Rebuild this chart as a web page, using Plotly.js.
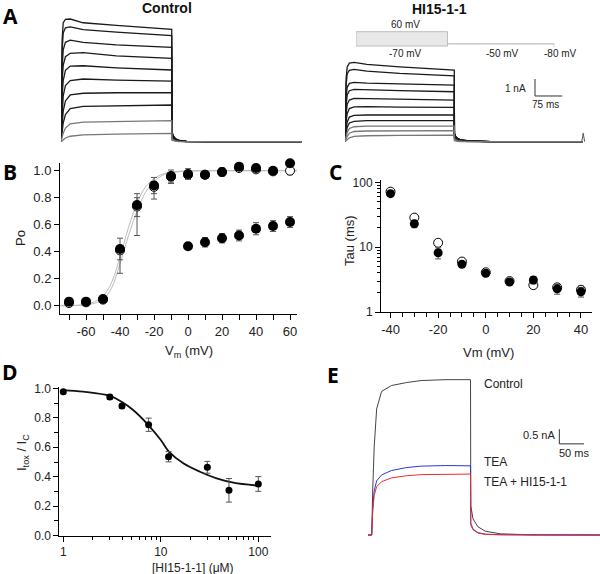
<!DOCTYPE html>
<html><head><meta charset="utf-8">
<script src="https://cdn.plot.ly/plotly-3.0.1.min.js"></script>
<style>body{margin:0;background:#fff}#plot{width:600px;height:574px}</style>
</head><body><div id="plot"></div>
<script>
// ---------- Panel A: current traces (nA) ----------
const tA = [0, 1, 3, 6, 12, 25, 60, 150, 300, 300.5, 304, 310, 320, 340, 400, 652];
const ctrlTraces = [
  [0, 3.0, 6.0, 7.0, 7.2, 7.22, 7.0, 6.85, 6.61, 0.6, 0.35, 0.18, 0.07, 0.02, 0, 0],
  [0, 2.5, 5.3, 6.4, 6.7, 6.76, 6.6, 6.45, 6.24, 0.58, 0.34, 0.17, 0.07, 0.02, 0, 0],
  [0, 2.0, 4.3, 5.4, 5.85, 5.98, 5.85, 5.7, 5.55, 0.55, 0.32, 0.16, 0.06, 0.02, 0, 0],
  [0, 1.5, 3.5, 4.5, 5.0, 5.2, 5.24, 5.05, 4.9, 0.5, 0.3, 0.15, 0.06, 0.02, 0, 0],
  [0, 1.0, 2.6, 3.6, 4.2, 4.45, 4.47, 4.35, 4.22, 0.45, 0.28, 0.14, 0.05, 0.015, 0, 0],
  [0, 0.6, 1.8, 2.7, 3.3, 3.6, 3.69, 3.62, 3.57, 0.4, 0.25, 0.12, 0.05, 0.01, 0, 0],
  [0, 0.35, 1.1, 1.8, 2.4, 2.75, 2.85, 2.88, 2.88, 0.33, 0.2, 0.1, 0.04, 0.01, 0, 0],
  [0, 0.2, 0.6, 1.1, 1.6, 1.95, 2.08, 2.12, 2.16, 0.25, 0.15, 0.07, 0.03, 0.01, 0, 0],
  [0, 0.08, 0.25, 0.5, 0.8, 1.05, 1.15, 1.2, 1.24, 0.15, 0.1, 0.05, 0.02, 0, 0, 0],
  [0, 0.02, 0.06, 0.12, 0.22, 0.32, 0.4, 0.45, 0.49, 0.08, 0.05, 0.03, 0.01, 0, 0, 0]
];
const hiTraces = [
  [0, 2.0, 3.7, 4.4, 4.62, 4.67, 4.55, 4.4, 4.22, 0.5, 0.3, 0.18, 0.1, 0.05, 0.01, 0],
  [0, 1.7, 3.3, 4.0, 4.2, 4.25, 4.15, 4.02, 3.88, 0.48, 0.29, 0.17, 0.1, 0.05, 0.01, 0],
  [0, 1.3, 2.6, 3.2, 3.43, 3.49, 3.45, 3.4, 3.33, 0.45, 0.27, 0.16, 0.09, 0.04, 0.01, 0],
  [0, 1.0, 2.1, 2.75, 3.0, 3.08, 3.05, 3.0, 2.94, 0.42, 0.25, 0.15, 0.08, 0.04, 0.01, 0],
  [0, 0.75, 1.6, 2.2, 2.45, 2.55, 2.54, 2.5, 2.45, 0.38, 0.23, 0.13, 0.07, 0.03, 0.01, 0],
  [0, 0.5, 1.15, 1.65, 1.95, 2.05, 2.06, 2.04, 2.02, 0.33, 0.2, 0.11, 0.06, 0.03, 0.01, 0],
  [0, 0.3, 0.75, 1.15, 1.45, 1.55, 1.57, 1.57, 1.57, 0.28, 0.17, 0.09, 0.05, 0.02, 0, 0],
  [0, 0.2, 0.5, 0.85, 1.1, 1.2, 1.24, 1.24, 1.24, 0.22, 0.13, 0.07, 0.04, 0.02, 0, 0],
  [0, 0.12, 0.3, 0.55, 0.78, 0.88, 0.92, 0.92, 0.92, 0.16, 0.1, 0.05, 0.03, 0.01, 0, 0],
  [0, 0.06, 0.17, 0.32, 0.5, 0.6, 0.63, 0.64, 0.65, 0.1, 0.06, 0.03, 0.02, 0.01, 0, 0],
  [0, 0.02, 0.06, 0.13, 0.23, 0.31, 0.35, 0.37, 0.39, 0.06, 0.04, 0.02, 0.01, 0, 0, 0]
];
const hiEndSpikeT = [650, 654, 658];
const hiEndSpikeI = [0, 0.5, 0];
// voltage protocol (mV, ms)
const protoStepT = [0, 0, 300, 300, 0];
const protoStepV = [-70, 60, 60, -70, -70];
const protoTailT = [300, 650, 650];
const protoTailV = [-50, -50, -80];
const protoLabels = ["60 mV", "-70 mV", "-50 mV", "-80 mV"];

// ---------- Panel B: Po vs Vm ----------
const bV = [-70, -60, -50, -40, -30, -20, -10, 0, 10, 20, 30, 40, 50, 60];
const bTickText = ["-60", "-40", "-20", "0", "20", "40", "60"];
const bPoFilled = [0.03, 0.03, 0.05, 0.42, 0.745, 0.89, 0.96, 0.975, 0.97, 0.99, 1.03, 1.02, 1.0, 1.055];
const bPoFilledErr = [0.01, 0.01, 0.01, 0.08, 0.085, 0.06, 0.045, 0.04, 0.02, 0.03, 0.01, 0.01, 0.02, 0.02];
const bPoOpen = [0.02, 0.025, 0.045, 0.41, 0.735, 0.88, 0.955, 0.97, 0.97, 0.99, 1.02, 1.01, 0.995, 1.0];
const bPoOpenErrPlus = [0.01, 0.01, 0.01, 0.0, 0.065, 0.04, 0.03, 0.03, 0.02, 0.02, 0.02, 0.02, 0.02, 0.03];
const bPoOpenErrMinus = [0.01, 0.01, 0.01, 0.17, 0.215, 0.09, 0.05, 0.03, 0.02, 0.02, 0.02, 0.02, 0.02, 0.03];
const bVLow = [0, 10, 20, 30, 40, 50, 60];
const bPoLow = [0.44, 0.47, 0.50, 0.52, 0.57, 0.59, 0.62];
const bPoLowErr = [0.025, 0.035, 0.035, 0.04, 0.045, 0.04, 0.04];
const fitV = [-75, -65, -60, -55, -50, -45, -40, -35, -30, -25, -20, -15, -10, 0, 20, 64];
const fit1 = [0, 0.003, 0.01, 0.03, 0.07, 0.17, 0.36, 0.58, 0.76, 0.88, 0.94, 0.975, 0.99, 0.998, 1.0, 1.0];
const fit2 = [0, 0.002, 0.005, 0.018, 0.045, 0.13, 0.31, 0.52, 0.70, 0.84, 0.92, 0.965, 0.985, 0.997, 1.0, 1.0];

// ---------- Panel C: Tau vs Vm ----------
const cV = [-40, -30, -20, -10, 0, 10, 20, 30, 40];
const cTickText = ["-40", "-20", "0", "20", "40"];
const cTauFilled = [67, 23, 8.2, 5.45, 3.95, 2.9, 3.12, 2.28, 2.05];
const cTauFilledErr = [6, 3, 1.6, 0.6, 0.4, 0.25, 0.4, 0.4, 0.35];
const cTauOpen = [72, 28.6, 11.7, 6.0, 4.1, 3.0, 2.6, 2.4, 2.2];
const cTauOpenErr = [4, 2, 1, 0.4, 0.3, 0.25, 0.3, 0.3, 0.3];

// ---------- Panel D: dose response ----------
const dConc = [1, 3, 4, 7.5, 12, 30, 50, 100];
const dRatio = [0.977, 0.941, 0.88, 0.753, 0.536, 0.464, 0.308, 0.351];
const dErr = [0.01, 0.015, 0.015, 0.045, 0.035, 0.04, 0.08, 0.05];
const dFitC = [1, 1.6, 3, 4, 5.2, 7.45, 10, 12.1, 17, 25.2, 37.4, 55.5, 100];
const dFitR = [0.988, 0.977, 0.948, 0.907, 0.853, 0.751, 0.649, 0.570, 0.491, 0.434, 0.389, 0.360, 0.339];

// ---------- Panel E: TEA traces ----------
const tE = [-8, 0, 2, 5, 10, 20, 40, 70, 100, 150, 200, 200.5, 205, 215, 230, 260, 320, 462];
const eControl = [0, 0, 1.5, 3.0, 4.3, 4.9, 5.1, 5.2, 5.27, 5.3, 5.3, 1.0, 0.55, 0.28, 0.13, 0.04, 0.01, 0];
const eTEA = [0, 0, 0.9, 1.5, 1.85, 2.05, 2.2, 2.3, 2.35, 2.37, 2.36, 0.4, 0.2, 0.08, 0.03, 0.01, 0, 0];
const eTEAHI = [0, 0, 0.8, 1.35, 1.65, 1.82, 1.95, 2.02, 2.06, 2.08, 2.08, 0.35, 0.18, 0.07, 0.02, 0.01, 0, 0];
const eLabels = ["Control", "TEA", "TEA + HI15-1-1"];

// ---------- layout helpers (pixel -> paper) ----------
const W = 600, H = 574;
const dx = (a, b) => [a / W, b / W];
const dy = (top, bottom) => [1 - bottom / H, 1 - top / H];
const px = x => x / W, py = y => 1 - y / H;
const FONT = "Liberation Sans, Arial, sans-serif";
const BOLD = "Open Sans, Liberation Sans, sans-serif";

const traces = [];
ctrlTraces.forEach((y, i) => traces.push({x: tA, y: y, xaxis: 'x', yaxis: 'y', mode: 'lines',
  line: {color: i < 8 ? '#1a1a1a' : '#777', width: 1.3}, hoverinfo: 'skip'}));
hiTraces.forEach((y, i) => traces.push({x: tA, y: y, xaxis: 'x2', yaxis: 'y2', mode: 'lines',
  line: {color: i < 8 ? '#1a1a1a' : '#777', width: 1.3}, hoverinfo: 'skip'}));
traces.push({x: hiEndSpikeT, y: hiEndSpikeI, xaxis: 'x2', yaxis: 'y2', mode: 'lines', line: {color: '#555', width: 1}});
traces.push({x: protoStepT, y: protoStepV, xaxis: 'x3', yaxis: 'y3', mode: 'lines', fill: 'toself',
  fillcolor: '#e8e8e8', line: {color: '#bdbdbd', width: 1}});
traces.push({x: protoTailT, y: protoTailV, xaxis: 'x3', yaxis: 'y3', mode: 'lines', line: {color: '#bdbdbd', width: 1.2}});

// B
const errStyle = e => ({type: 'data', array: e, visible: true, color: '#555', thickness: 1, width: 3});
traces.push({x: fitV, y: fit1, xaxis: 'x4', yaxis: 'y4', mode: 'lines', line: {color: '#bbb', width: 1, shape: 'spline'}});
traces.push({x: fitV, y: fit2, xaxis: 'x4', yaxis: 'y4', mode: 'lines', line: {color: '#bbb', width: 1, shape: 'spline'}});
traces.push({x: bV, y: bPoOpen, xaxis: 'x4', yaxis: 'y4', mode: 'markers', cliponaxis: false,
  error_y: {type: 'data', symmetric: false, array: bPoOpenErrPlus, arrayminus: bPoOpenErrMinus, visible: true, color: '#555', thickness: 1, width: 3},
  marker: {size: 9, color: '#fff', line: {color: '#000', width: 1}}});
traces.push({x: bV, y: bPoFilled, xaxis: 'x4', yaxis: 'y4', mode: 'markers', error_y: errStyle(bPoFilledErr), cliponaxis: false,
  marker: {size: 10, color: '#000'}});
traces.push({x: bVLow, y: bPoLow, xaxis: 'x4', yaxis: 'y4', mode: 'markers', error_y: errStyle(bPoLowErr), cliponaxis: false,
  marker: {size: 10, color: '#000'}});
// C
traces.push({x: cV, y: cTauOpen, xaxis: 'x5', yaxis: 'y5', mode: 'markers', error_y: errStyle(cTauOpenErr), cliponaxis: false,
  marker: {size: 9, color: '#fff', line: {color: '#000', width: 1}}});
traces.push({x: cV, y: cTauFilled, xaxis: 'x5', yaxis: 'y5', mode: 'markers', error_y: errStyle(cTauFilledErr), cliponaxis: false,
  marker: {size: 9, color: '#000'}});
// D
traces.push({x: dFitC, y: dFitR, xaxis: 'x6', yaxis: 'y6', mode: 'lines', line: {color: '#111', width: 1.8, shape: 'spline'}});
traces.push({x: dConc, y: dRatio, xaxis: 'x6', yaxis: 'y6', mode: 'markers', error_y: errStyle(dErr), cliponaxis: false,
  marker: {size: 7, color: '#000'}});
// E
traces.push({x: tE, y: eControl, xaxis: 'x7', yaxis: 'y7', mode: 'lines', line: {color: '#444', width: 1}});
traces.push({x: tE, y: eTEA, xaxis: 'x7', yaxis: 'y7', mode: 'lines', line: {color: '#2b35d8', width: 1}});
traces.push({x: tE, y: eTEAHI, xaxis: 'x7', yaxis: 'y7', mode: 'lines', line: {color: '#ee2a2a', width: 1}});

const hidden = {visible: false, showgrid: false, zeroline: false, fixedrange: true};
const axBase = {showline: true, linecolor: '#000', linewidth: 1, ticks: 'outside', ticklen: 5, tickcolor: '#000',
  showgrid: false, zeroline: false, mirror: false, tickfont: {family: FONT, size: 13, color: '#222'}};

const ann = (x, y, text, size, opts) => Object.assign({xref: 'paper', yref: 'paper', x: px(x), y: py(y), text: text,
  showarrow: false, font: {family: FONT, size: size, color: '#222'}, xanchor: 'center', yanchor: 'middle'}, opts || {});
const letter = (x, y, t) => ann(x, y, '<b>' + t + '</b>', 21, {font: {family: BOLD, size: 21, color: '#000'}});

const annotations = [
  letter(10, 16, 'A'), letter(10, 172, 'B'), letter(335, 172, 'C'), letter(10, 372, 'D'), letter(333, 375, 'E'),
  ann(167, 8, '<b>Control</b>', 14, {font: {family: FONT, size: 14, color: '#111'}}),
  ann(440, 9, '<b>HI15-1-1</b>', 14, {font: {family: FONT, size: 14, color: '#111'}}),
  ann(405, 25, protoLabels[0], 10),
  ann(405, 53, protoLabels[1], 10),
  ann(502, 53, protoLabels[2], 10),
  ann(560, 53, protoLabels[3], 10),
  ann(528, 89, '1 nA', 10, {xanchor: 'right'}),
  ann(545, 104, '75 ms', 10),
  ann(21, 238, 'Po', 13, {textangle: -90}),
  ann(189, 351, 'V<sub>m</sub> (mV)', 13),
  ann(349, 241, 'Tau (ms)', 13, {textangle: -90}),
  ann(488, 352, 'Vm (mV)', 13),
  ann(22, 453, 'I<sub>tox</sub> / I<sub>C</sub>', 13, {textangle: -90}),
  ann(193, 568, '[HI15-1-1] (μM)', 12),
  ann(482, 384, eLabels[0], 12, {xanchor: 'left'}),
  ann(482, 462, eLabels[1], 12, {xanchor: 'left'}),
  ann(482, 482, eLabels[2], 12, {xanchor: 'left'}),
  ann(557, 435, '0.5 nA', 11, {xanchor: 'right'}),
  ann(574, 453, '50 ms', 11)
];

const sb = {type: 'line', line: {color: '#333', width: 1}};
const shapes = [
  Object.assign({xref: 'x2', yref: 'y2', x0: 521.6, x1: 521.6, y0: 2.69, y1: 3.69}, sb),
  Object.assign({xref: 'x2', yref: 'y2', x0: 521.6, x1: 596.6, y0: 2.69, y1: 2.69}, sb),
  Object.assign({xref: 'x7', yref: 'y7', x0: 379.7, x1: 379.7, y0: 3.11, y1: 3.61}, sb),
  Object.assign({xref: 'x7', yref: 'y7', x0: 379.7, x1: 429.7, y0: 3.11, y1: 3.11}, sb)
];

const layout = {
  width: W, height: H, margin: {l: 0, r: 0, t: 0, b: 0}, showlegend: false,
  paper_bgcolor: '#fff', plot_bgcolor: 'rgba(0,0,0,0)', font: {family: FONT},
  xaxis: Object.assign({}, hidden, {domain: dx(61, 301.7), range: [0, 652]}),
  yaxis: Object.assign({}, hidden, {domain: dy(15.1, 145.1), range: [-0.2, 7.45]}),
  xaxis2: Object.assign({}, hidden, {domain: dx(345, 585.4), range: [0, 660], anchor: 'y2'}),
  yaxis2: Object.assign({}, hidden, {domain: dy(15.1, 145.1), range: [-0.2, 7.45], anchor: 'x2'}),
  xaxis3: Object.assign({}, hidden, {domain: dx(356, 554.3), range: [0, 650], anchor: 'y3'}),
  yaxis3: Object.assign({}, hidden, {domain: dy(28, 50), range: [-106, 93.6], anchor: 'x3'}),
  xaxis4: Object.assign({}, axBase, {domain: dx(60, 297), range: [-75.3, 64.1], anchor: 'y4',
    tickvals: [-60, -40, -20, 0, 20, 40, 60], ticktext: bTickText,
    minor: {tickvals: [-70, -50, -30, -10, 10, 30, 50], ticklen: 5, ticks: 'outside', tickcolor: '#000'}}),
  yaxis4: Object.assign({}, axBase, {domain: dy(163, 314), range: [-0.0615, 1.057], anchor: 'x4',
    tickvals: [0, 0.2, 0.4, 0.6, 0.8, 1.0], tickformat: '.1f'}),
  xaxis5: Object.assign({}, axBase, {domain: dx(381, 591.7), range: [-44, 44.5], anchor: 'y5',
    tickvals: [-40, -20, 0, 20, 40], ticktext: cTickText, tickfont: {family: FONT, size: 13, color: '#222'},
    minor: {dtick: 5, ticklen: 4, ticks: 'outside', tickcolor: '#000'}}),
  yaxis5: Object.assign({}, axBase, {domain: dy(180, 312), type: 'log', range: [0, 2.037], anchor: 'x5',
    tickvals: [1, 10, 100], ticktext: ['1', '10', '100'], tickfont: {family: FONT, size: 12, color: '#222'},
    minor: {tickvals: [2,3,4,5,6,7,8,9,20,30,40,50,60,70,80,90], ticklen: 3, ticks: 'outside', tickcolor: '#000'}}),
  xaxis6: Object.assign({}, axBase, {domain: dx(59.3, 270.7), type: 'log', range: [-0.041, 2.127], anchor: 'y6',
    tickvals: [1, 10, 100], ticktext: ['1', '10', '100'], tickfont: {family: FONT, size: 12, color: '#222'},
    minor: {tickvals: [2,3,4,5,6,7,8,9,20,30,40,50,60,70,80,90], ticklen: 3, ticks: 'outside', tickcolor: '#000'}}),
  yaxis6: Object.assign({}, axBase, {domain: dy(386.7, 535.7), range: [0, 1.011], anchor: 'x6',
    tickvals: [0, 0.2, 0.4, 0.6, 0.8, 1.0], tickformat: '.1f', tickfont: {family: FONT, size: 12, color: '#222'},
    minor: {tickvals: [0.1, 0.3, 0.5, 0.7, 0.9], ticklen: 4, ticks: 'outside', tickcolor: '#000'}}),
  xaxis7: Object.assign({}, hidden, {domain: dx(368, 600), range: [-7.5, 462], anchor: 'y7'}),
  yaxis7: Object.assign({}, hidden, {domain: dy(370, 540), range: [-0.17, 5.63], anchor: 'x7'}),
  annotations: annotations,
  shapes: shapes
};
Plotly.newPlot('plot', traces, layout, {staticPlot: true, displayModeBar: false});
</script></body></html>
